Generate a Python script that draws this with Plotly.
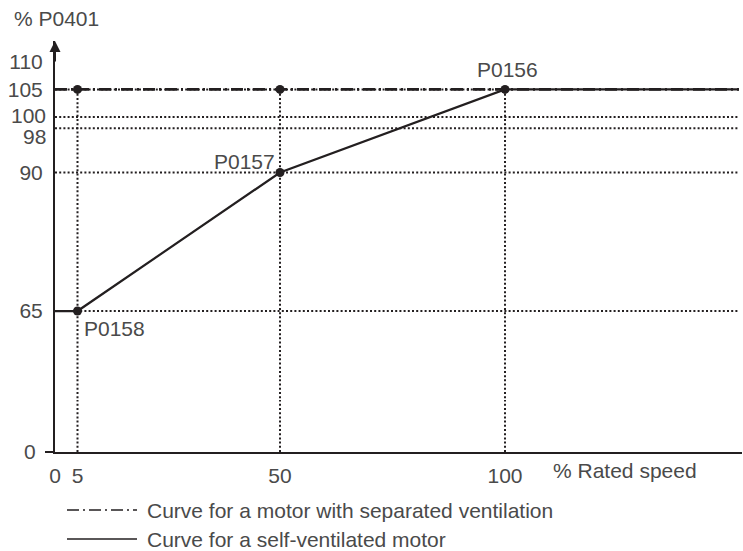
import plotly.graph_objects as go

# ---- data ----
speed_pts = [5, 50, 100]            # % rated speed at the parameter points
torque_pts = [65, 90, 105]          # % P0401 at the parameter points
param_names = ["P0158", "P0157", "P0156"]
separated_level = 105               # separated ventilation curve level
speed_end = 152                     # end of the drawn curves
x_tick_vals = [0, 5, 50, 100]
y_tick_low = [0]
y_tick_high = [65, 90, 98, 100, 105, 110]
grid_levels = [65, 90, 98, 100]
legend_names = ["Curve for a motor with separated ventilation",
                "Curve for a self-ventilated motor"]

INK = "#231f20"
TXT = "#4a4a4a"
FONT = "Liberation Sans, Arial, sans-serif"
FS = 21

W, H = 743, 551
ML, MR, MT, MB = 55, 1, 41, 99
PW = W - ML - MR
PH = H - MT - MB
split = 52 / PH
XMAX = PW / 4.5

fig = go.Figure()

DOT = dict(color=INK, width=2, dash="2px,2.2px")

# horizontal dotted grid lines
hx, hy = [], []
for g in grid_levels:
    hx += [0, speed_end, None]
    hy += [g, g, None]
hx += [0, speed_pts[-1], None]
hy += [separated_level, separated_level, None]
fig.add_trace(go.Scatter(x=hx, y=hy, xaxis="x2", yaxis="y2", mode="lines",
                         line=DOT, hoverinfo="skip", showlegend=False))
# vertical dotted lines (drawn in both parts of the broken axis)
vx, vy = [], []
for s in speed_pts:
    vx += [s, s, None]
    vy += [0, separated_level, None]
for xa, ya in [("x", "y"), ("x2", "y2")]:
    fig.add_trace(go.Scatter(x=vx, y=vy, xaxis=xa, yaxis=ya, mode="lines",
                             line=DOT, hoverinfo="skip", showlegend=False))

# separated ventilation (dash-dot)
fig.add_trace(go.Scatter(x=[0, speed_end], y=[separated_level, separated_level],
                         xaxis="x2", yaxis="y2", mode="lines",
                         line=dict(color=INK, width=2.6, dash="12px,4px,2px,4px"),
                         showlegend=False))
# self-ventilated (solid)
sx = [0] + speed_pts + [speed_end]
sy = [torque_pts[0]] + torque_pts + [torque_pts[-1]]
fig.add_trace(go.Scatter(x=sx, y=sy, xaxis="x2", yaxis="y2", mode="lines",
                         line=dict(color=INK, width=2.2), showlegend=False))
# markers
mx = speed_pts + speed_pts[:2]
my = torque_pts + [separated_level] * 2
fig.add_trace(go.Scatter(x=mx, y=my, xaxis="x2", yaxis="y2", mode="markers",
                         marker=dict(color=INK, size=9), showlegend=False))

# point labels
offsets = [dict(xanchor="left", xshift=4, yshift=-17),
           dict(xanchor="right", xshift=-3, yshift=11),
           dict(xanchor="center", xshift=2, yshift=20)]
for s, t, n, o in zip(speed_pts, torque_pts, param_names, offsets):
    fig.add_annotation(x=s, y=t, xref="x2", yref="y2", text=n, showarrow=False,
                       yanchor="middle", font=dict(family=FONT, size=FS, color=TXT), **o)

# y tick labels for 98 / 100 (nudged apart as in the original)
for v, ys in [(100, 2), (98, -8)]:
    fig.add_annotation(x=0, y=v, xref="x2", yref="y2", text=str(v), showarrow=False,
                       xanchor="right", xshift=-7, yanchor="middle", yshift=ys,
                       font=dict(family=FONT, size=FS, color=TXT))

# axis arrow
fig.add_annotation(x=0, y=1, xref="x2", yref="paper", ax=0, ay=22, axref="pixel",
                   text="", showarrow=True, arrowhead=2, arrowsize=1.1,
                   arrowwidth=2, arrowcolor=INK, standoff=0)

# axis titles
fig.add_annotation(x=0, y=1, xref="paper", yref="paper", text="% P0401",
                   showarrow=False, xanchor="left", yanchor="middle",
                   xshift=13 - ML - 1, yshift=MT - 18,
                   font=dict(family=FONT, size=FS, color=TXT))
fig.add_annotation(x=0, y=0, xref="paper", yref="paper", text="% Rated speed",
                   showarrow=False, xanchor="left", yanchor="middle",
                   xshift=551 - ML, yshift=-18,
                   font=dict(family=FONT, size=FS, color=TXT))

# legend (manual)
leg_y = [-(510 - 452) / PH, -(539 - 452) / PH]
leg_x0, leg_x1, leg_tx = (67 - ML) / PW, (137 - ML) / PW, (145 - ML) / PW
dashes = ["12px,4px,2px,4px", "solid"]
for name, yy, d in zip(legend_names, leg_y, dashes):
    fig.add_shape(type="line", xref="paper", yref="paper", x0=leg_x0, x1=leg_x1,
                  y0=yy, y1=yy, line=dict(color=INK, width=1.3, dash=d))
    fig.add_annotation(x=leg_tx, y=yy, xref="paper", yref="paper", text=name,
                       showarrow=False, xanchor="left", yanchor="middle",
                       font=dict(family=FONT, size=FS, color=TXT))

axis_common = dict(zeroline=False, showgrid=False, linewidth=2,
                   tickfont=dict(family=FONT, size=FS, color=TXT))
fig.update_layout(
    width=W, height=H, margin=dict(l=ML, r=MR, t=MT, b=MB),
    paper_bgcolor="white", plot_bgcolor="white", showlegend=False,
    xaxis=dict(domain=[0, 1], range=[0, XMAX], anchor="y", showline=True,
               linecolor=INK, tickvals=x_tick_vals, ticks="",
               ticklabelstandoff=4, **axis_common),
    xaxis2=dict(domain=[0, 1], range=[0, XMAX], anchor="y2", matches="x",
                showline=False, showticklabels=False, ticks="", **axis_common),
    yaxis=dict(domain=[0, split], range=[0, 10], anchor="x", showline=True,
               linecolor=INK, tickvals=y_tick_low, ticks="outside", ticklen=8,
               tickwidth=2, tickcolor=INK, ticklabelstandoff=5, **axis_common),
    yaxis2=dict(domain=[split, 1], range=[48.94, 113.74], anchor="x2", showline=True,
                linecolor=INK, tickvals=[v for v in y_tick_high if v not in (98, 100)],
                ticks="", ticklabelstandoff=6, **axis_common),
)

fig.write_html("out.html", post_script="document.body.style.margin='0px';",
               config={"displayModeBar": False})
